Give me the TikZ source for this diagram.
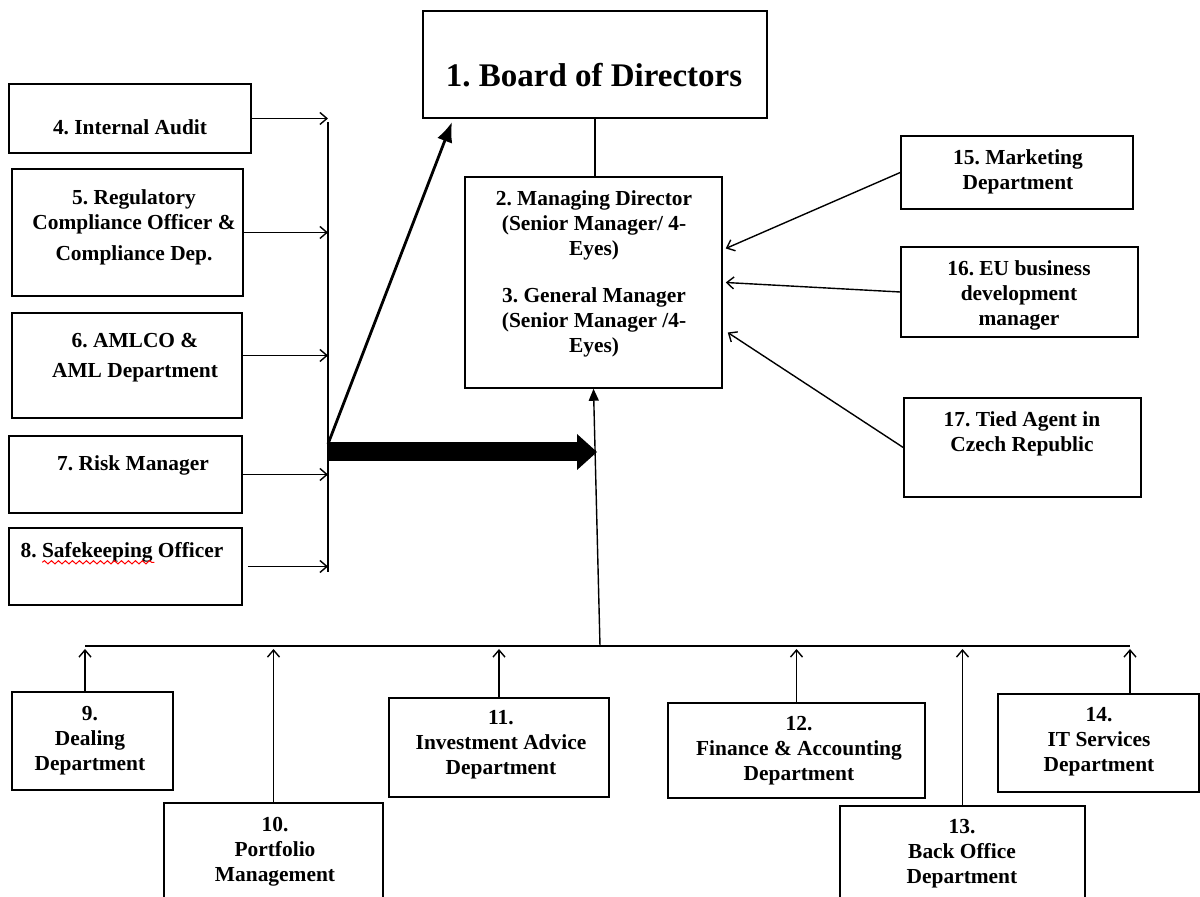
\documentclass[tikz,border=0pt]{standalone}
\usepackage{fontspec}
\setmainfont{Liberation Serif}
\usetikzlibrary{arrows.meta,fit,decorations.pathmorphing}
\frenchspacing

\begin{document}
\begin{tikzpicture}[x=0.5pt,y=-0.5pt,
		box/.style={draw,line width=0.75pt,inner sep=0pt},
		lbl/.style={font=\bfseries\fontsize{10.7}{12.5}\selectfont,align=center,inner sep=0pt},
		arr/.style={line width=0.7pt,-{Straight Barb[length=3.5pt,width=6pt,line width=0.7pt]}}]
		\useasboundingbox (0,0) rectangle (1200,897);
		\node[box,fit={(423,11) (767,118)}] (n1) {};
		\node[box,fit={(465,177) (722,388)}] (n2) {};
		\node[box,fit={(9,84) (251,153)}] (n4) {};
		\node[box,fit={(12,169) (243,296)}] (n5) {};
		\node[box,fit={(12,313) (242,418)}] (n6) {};
		\node[box,fit={(9,436) (242,513)}] (n7) {};
		\node[box,fit={(9,528) (242,605)}] (n8) {};
		\node[box,fit={(12,692) (173,790)}] (n9) {};
		\node[box,fit={(164,803) (383,920)}] (n10) {};
		\node[box,fit={(389,698) (609,797)}] (n11) {};
		\node[box,fit={(668,703) (925,798)}] (n12) {};
		\node[box,fit={(840,806) (1085,920)}] (n13) {};
		\node[box,fit={(998,694) (1199,792)}] (n14) {};
		\node[box,fit={(901,136) (1133,209)}] (n15) {};
		\node[box,fit={(901,247) (1138,337)}] (n16) {};
		\node[box,fit={(904,398) (1141,497)}] (n17) {};
		\node[lbl,font=\bfseries\fontsize{16.5}{18}\selectfont] (t1) at (594,75) {1. Board of Directors};
		\node[lbl] (t2) at (594,274) {2. Managing Director\\(Senior Manager/ 4-\\Eyes)\\[11pt]3. General Manager\\(Senior Manager /4-\\Eyes)};
		\node[lbl] (t4) at (130,127) {4. Internal Audit};
		\node[lbl] (t5) at (134,227) {5. Regulatory\\Compliance Officer \&\\[3pt]Compliance Dep.};
		\node[lbl] (t6) at (135,358) {6. AMLCO \&\\[2.5pt]AML Department};
		\node[lbl] (t7) at (133,465) {7. Risk Manager};
		\node[lbl] (t8) at (122,552) {8. Safekeeping Officer};
		\node[lbl] (t9) at (90,741) {9.\\Dealing\\Department};
		\node[lbl] (t10) at (275,852) {10.\\Portfolio\\Management};
		\node[lbl] (t11) at (501,745) {11.\\Investment Advice\\Department};
		\node[lbl] (t12) at (799,751) {12.\\Finance \& Accounting\\Department};
		\node[lbl] (t13) at (962,854) {13.\\Back Office\\Department};
		\node[lbl] (t14) at (1099,742) {14.\\IT Services\\Department};
		\node[lbl] (t15) at (1018,172) {15. Marketing\\Department};
		\node[lbl] (t16) at (1019,295) {16. EU business\\development\\manager};
		\node[lbl] (t17) at (1022,434) {17. Tied Agent in\\Czech Republic};
		\draw[red,line width=0.5pt,decorate,decoration={snake,amplitude=0.8pt,segment length=3.5pt}]
			([xshift=11pt]t8.south west) -- ([xshift=67pt]t8.south west);
		\coordinate (bt) at (328,122);
		\coordinate (bb) at (328,572);
		\coordinate (hub) at (328,452);
		\coordinate (jn) at (597,452);
		\coordinate (bd) at (452,122);
		\coordinate (bl) at (85,646);
		\coordinate (br) at (1130,646);
		\coordinate (bm) at (600,646);
		\draw[line width=0.9pt] (bt) -- (bb);
		\foreach \n in {n4,n5,n7}
			\draw[arr] (\n.east) -- (\n.east -| bt);
		\draw[arr] ([yshift=5pt]n6.east) -- ([yshift=5pt]n6.east -| bt);
		\draw[arr,shorten <=2.5pt] (n8.east) -- (n8.east -| bt);
		\draw[line width=9.5pt,-{Triangle[length=10pt,width=18pt,line width=0pt]}] (hub) -- (jn);
		\draw[line width=1.4pt,-{Latex[length=10pt,width=8pt]}] ([yshift=4pt]hub) -- (bd);
		\draw[line width=0.7pt] (n1.south) -- (n1.south |- n2.north);
		\draw[arr] (n15.west) -- ([xshift=1.5pt,yshift=17pt]n2.east);
		\draw[arr] (n16.west) -- ([xshift=1.5pt]n2.east);
		\draw[arr] (n17.west) -- ([xshift=2.5pt,yshift=-25pt]n2.east);
		\draw[line width=0.9pt] (bl) -- (br);
		\draw[line width=0.7pt,-{Triangle[length=6pt,width=5pt]}] (bm) -- (n2.south);
		\draw[arr,shorten >=1.5pt] (n9.north -| bl) -- (bl);
		\foreach \n in {n10,n11,n12,n13}
			\draw[arr,shorten >=1.5pt] (\n.north) -- (\n.north |- bl);
		\draw[arr,shorten >=1.5pt] (n14.north -| br) -- (br);
	\end{tikzpicture}
\end{document}
